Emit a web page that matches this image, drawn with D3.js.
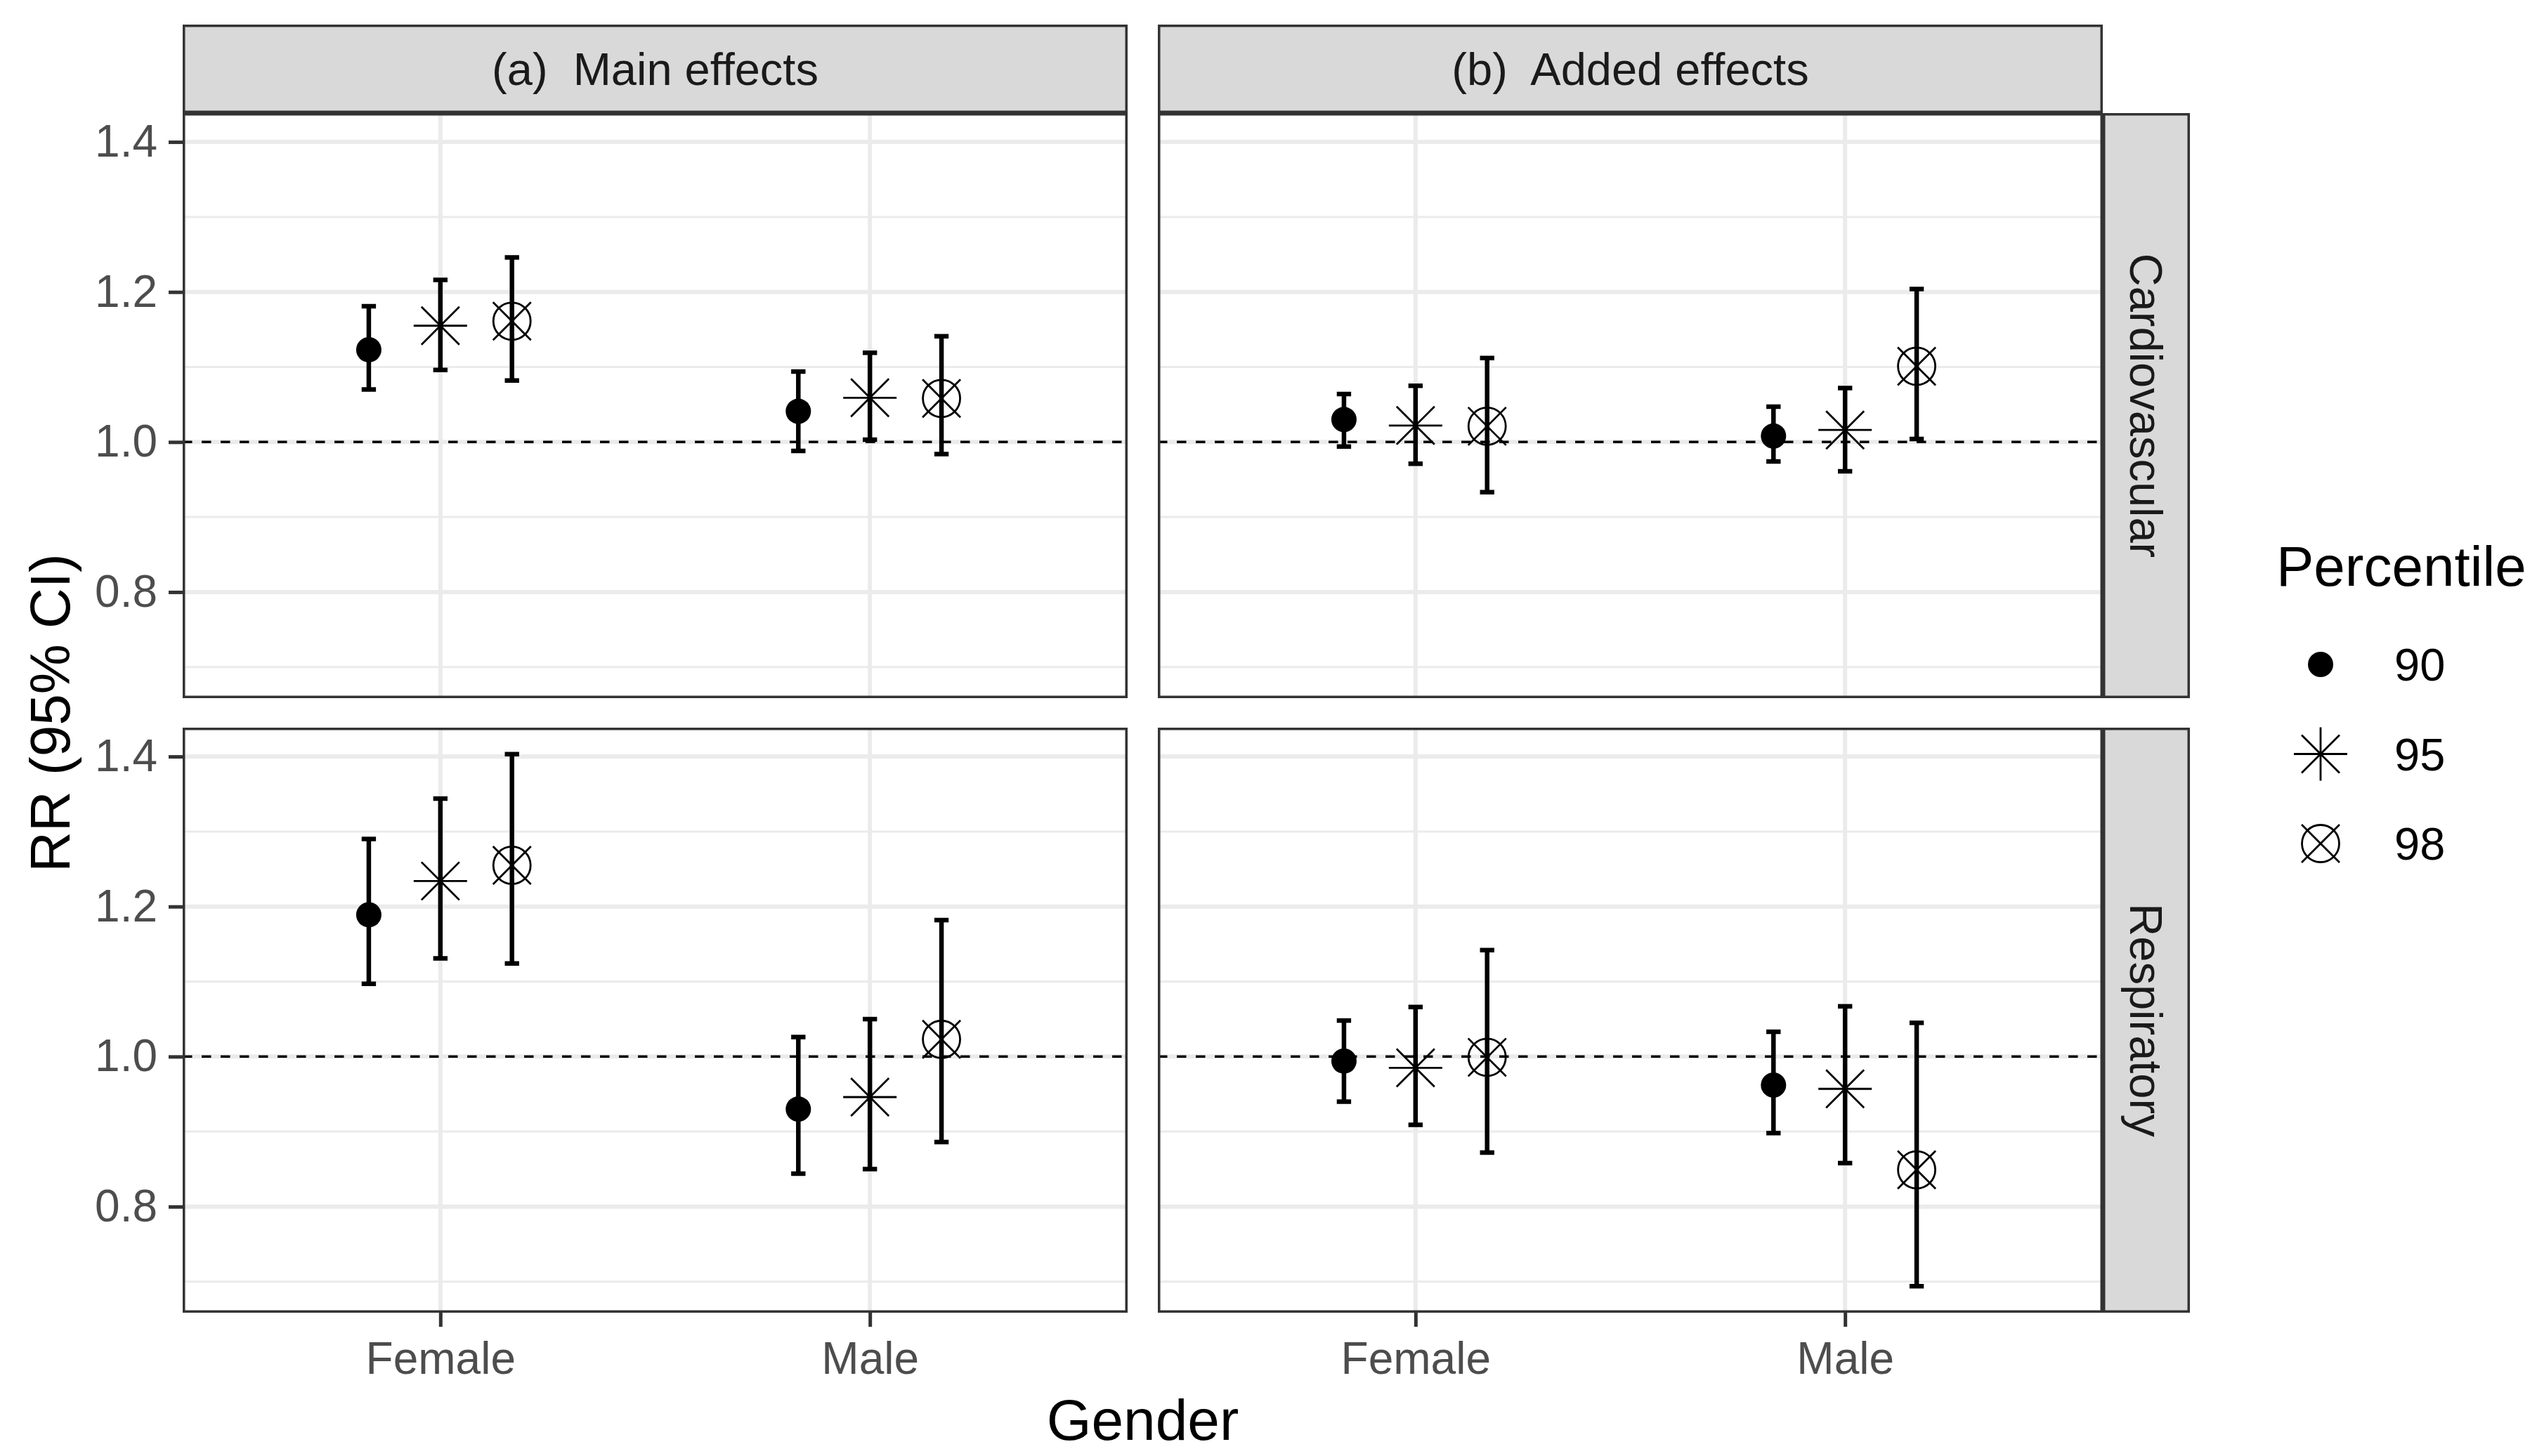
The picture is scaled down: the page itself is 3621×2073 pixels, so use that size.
<!DOCTYPE html>
<html>
<head>
<meta charset="utf-8">
<script src="https://cdn.jsdelivr.net/npm/d3@7"></script>
<style>
  body { margin: 0; background: #fff; }
  svg { display: block; }
  text { font-family: "Liberation Sans", Arial, sans-serif; }
</style>
</head>
<body>
<div id="chart"></div>
<script>
// categories
const genders = ["Female", "Male"];
const percentiles = ["90", "95", "98"];
const effects = ["(a)  Main effects", "(b)  Added effects"];
const outcomes = ["Cardiovascular", "Respiratory"];
const yTicks = [0.8, 1.0, 1.2, 1.4];
const yMinorTicks = [0.7, 0.9, 1.1, 1.3];

// RR and 95% CI, order: Female 90/95/98, Male 90/95/98
const rrMainCardio = [1.123, 1.155, 1.161, 1.041, 1.059, 1.058];
const loMainCardio = [1.070, 1.096, 1.082, 0.988, 1.003, 0.984];
const hiMainCardio = [1.181, 1.216, 1.246, 1.094, 1.119, 1.141];

const rrAddedCardio = [1.030, 1.022, 1.021, 1.008, 1.016, 1.101];
const loAddedCardio = [0.994, 0.971, 0.933, 0.974, 0.961, 1.004];
const hiAddedCardio = [1.064, 1.075, 1.112, 1.047, 1.072, 1.204];

const rrMainResp = [1.189, 1.234, 1.255, 0.930, 0.946, 1.023];
const loMainResp = [1.097, 1.131, 1.124, 0.844, 0.850, 0.886];
const hiMainResp = [1.290, 1.344, 1.403, 1.026, 1.050, 1.182];

const rrAddedResp = [0.994, 0.985, 0.999, 0.962, 0.957, 0.849];
const loAddedResp = [0.940, 0.909, 0.872, 0.898, 0.858, 0.694];
const hiAddedResp = [1.048, 1.066, 1.142, 1.033, 1.067, 1.045];

const width = 3621;
const height = 2073;

// panel layout
const colX = [[260, 1605], [1648, 2993]];
const rowY = [[161, 994], [1036, 1869]];
const stripTop = [35, 161];
const stripRight = [2993, 3117];

const panels = [
  { col: 0, row: 0, rr: rrMainCardio, lo: loMainCardio, hi: hiMainCardio },
  { col: 1, row: 0, rr: rrAddedCardio, lo: loAddedCardio, hi: hiAddedCardio },
  { col: 0, row: 1, rr: rrMainResp, lo: loMainResp, hi: hiMainResp },
  { col: 1, row: 1, rr: rrAddedResp, lo: loAddedResp, hi: hiAddedResp }
];

panels.forEach(p => {
  p.points = p.rr.map((v, i) => ({
    gender: genders[Math.floor(i / 3)],
    pct: percentiles[i % 3],
    rr: v, lo: p.lo[i], hi: p.hi[i]
  }));
});

const svg = d3.select('#chart')
  .append('svg')
  .attr('width', width)
  .attr('height', height);

// shared y domain with 5% expansion like ggplot
const yMin = d3.min(panels, p => d3.min(p.lo));
const yMax = d3.max(panels, p => d3.max(p.hi));
const pad = (yMax - yMin) * 0.05;
const yDomain = [yMin - pad, yMax + pad];

const yScales = rowY.map(r => d3.scaleLinear().domain(yDomain).range([r[1], r[0]]));
const xScales = colX.map(c => d3.scalePoint().domain(genders).range(c).padding(0.6));

const step = xScales[0].step();
const dodge = d3.scalePoint().domain(percentiles).range([-step * 0.5 / 3, step * 0.5 / 3]);
const capHalf = step * 0.1 / 3 / 2;

const borderCol = '#333333';

// point shapes
function drawShape(g, pct) {
  if (pct === '90') {
    g.append('circle').attr('r', 18).attr('fill', 'black');
  } else if (pct === '95') {
    const a = 27, b = 38;
    g.append('path')
      .attr('d', `M${-a},${-a}L${a},${a}M${-a},${a}L${a},${-a}M${-b},0L${b},0M0,${-b}L0,${b}`)
      .attr('stroke', 'black').attr('stroke-width', 2.8).attr('fill', 'none');
  } else {
    const a = 27;
    g.append('circle').attr('r', 26.5)
      .attr('stroke', 'black').attr('stroke-width', 2.8).attr('fill', 'none');
    g.append('path')
      .attr('d', `M${-a},${-a}L${a},${a}M${-a},${a}L${a},${-a}`)
      .attr('stroke', 'black').attr('stroke-width', 2.8).attr('fill', 'none');
  }
}

panels.forEach(p => {
  const x = xScales[p.col];
  const y = yScales[p.row];
  const [x0, x1] = colX[p.col];
  const [y0, y1] = rowY[p.row];
  const g = svg.append('g');

  g.append('rect').attr('x', x0).attr('y', y0)
    .attr('width', x1 - x0).attr('height', y1 - y0).attr('fill', 'white');

  // grid
  g.selectAll('.minor').data(yMinorTicks).join('line')
    .attr('x1', x0).attr('x2', x1)
    .attr('y1', d => y(d)).attr('y2', d => y(d))
    .attr('stroke', '#EBEBEB').attr('stroke-width', 3);
  g.selectAll('.major').data(yTicks).join('line')
    .attr('x1', x0).attr('x2', x1)
    .attr('y1', d => y(d)).attr('y2', d => y(d))
    .attr('stroke', '#EBEBEB').attr('stroke-width', 6);
  g.selectAll('.vmajor').data(genders).join('line')
    .attr('x1', d => x(d)).attr('x2', d => x(d))
    .attr('y1', y0).attr('y2', y1)
    .attr('stroke', '#EBEBEB').attr('stroke-width', 6);

  // reference line at RR = 1
  g.append('line')
    .attr('x1', x0).attr('x2', x1)
    .attr('y1', y(1)).attr('y2', y(1))
    .attr('stroke', 'black').attr('stroke-width', 3.4)
    .attr('stroke-dasharray', '13.5,13.5');

  // error bars
  const eb = g.selectAll('.eb').data(p.points).join('g')
    .attr('transform', d => `translate(${x(d.gender) + dodge(d.pct)},0)`);
  eb.append('path')
    .attr('d', d => `M0,${y(d.lo)}L0,${y(d.hi)}M${-capHalf},${y(d.lo)}L${capHalf},${y(d.lo)}M${-capHalf},${y(d.hi)}L${capHalf},${y(d.hi)}`)
    .attr('stroke', 'black').attr('stroke-width', 6.5).attr('fill', 'none');

  // points
  g.selectAll('.pt').data(p.points).join('g')
    .attr('transform', d => `translate(${x(d.gender) + dodge(d.pct)},${y(d.rr)})`)
    .each(function (d) { drawShape(d3.select(this), d.pct); });

  // border
  g.append('rect').attr('x', x0 + 1.75).attr('y', y0 + 1.75)
    .attr('width', x1 - x0 - 3.5).attr('height', y1 - y0 - 3.5)
    .attr('fill', 'none').attr('stroke', borderCol).attr('stroke-width', 3.5);
});

// top strips
colX.forEach((c, i) => {
  svg.append('rect').attr('x', c[0] + 1.75).attr('y', stripTop[0] + 1.75)
    .attr('width', c[1] - c[0] - 3.5).attr('height', stripTop[1] - stripTop[0] - 3.5)
    .attr('fill', '#D9D9D9').attr('stroke', borderCol).attr('stroke-width', 3.5);
  svg.append('text')
    .attr('x', (c[0] + c[1]) / 2)
    .attr('y', (stripTop[0] + stripTop[1]) / 2)
    .attr('dy', '0.35em')
    .attr('text-anchor', 'middle')
    .style('font-size', '65px')
    .style('fill', '#1A1A1A')
    .style('white-space', 'pre')
    .text(effects[i]);
});

// right strips
rowY.forEach((r, i) => {
  svg.append('rect').attr('x', stripRight[0] + 1.75).attr('y', r[0] + 1.75)
    .attr('width', stripRight[1] - stripRight[0] - 3.5).attr('height', r[1] - r[0] - 3.5)
    .attr('fill', '#D9D9D9').attr('stroke', borderCol).attr('stroke-width', 3.5);
  const cx = (stripRight[0] + stripRight[1]) / 2;
  const cy = (r[0] + r[1]) / 2;
  svg.append('text')
    .attr('transform', `translate(${cx},${cy}) rotate(90)`)
    .attr('dy', '0.35em')
    .attr('text-anchor', 'middle')
    .style('font-size', '65px')
    .style('fill', '#1A1A1A')
    .text(outcomes[i]);
});

// axes
function styleAxis(a) {
  a.select('.domain').remove();
  a.selectAll('.tick line').attr('stroke', borderCol).attr('stroke-width', 5);
  a.selectAll('.tick text')
    .style('font-size', '64px')
    .style('fill', '#4D4D4D')
    .style('font-family', '"Liberation Sans", Arial, sans-serif');
}

rowY.forEach((r, i) => {
  svg.append('g')
    .attr('transform', `translate(${colX[0][0]},0)`)
    .call(d3.axisLeft(yScales[i]).tickValues(yTicks).tickFormat(d3.format('.1f')).tickSize(20).tickPadding(16))
    .call(styleAxis);
});

colX.forEach((c, i) => {
  svg.append('g')
    .attr('transform', `translate(0,${rowY[1][1]})`)
    .call(d3.axisBottom(xScales[i]).tickSize(20).tickPadding(22))
    .call(styleAxis);
});

// axis titles
svg.append('text')
  .attr('x', (colX[0][0] + colX[1][1]) / 2)
  .attr('y', 2050)
  .attr('text-anchor', 'middle')
  .style('font-size', '82px')
  .style('fill', 'black')
  .text('Gender');

svg.append('text')
  .attr('transform', `translate(99,${(rowY[0][0] + rowY[1][1]) / 2}) rotate(-90)`)
  .attr('text-anchor', 'middle')
  .style('font-size', '80px')
  .style('fill', 'black')
  .text('RR (95% CI)');

// legend
const legend = svg.append('g');
legend.append('text')
  .attr('x', 3240).attr('y', 834)
  .style('font-size', '80px')
  .style('fill', 'black')
  .text('Percentile');

const legendY = d3.scalePoint().domain(percentiles).range([946, 1201]);
const items = legend.selectAll('.item').data(percentiles).join('g')
  .attr('transform', d => `translate(3303,${legendY(d)})`);
items.each(function (d) { drawShape(d3.select(this), d); });
items.append('text')
  .attr('x', 105)
  .attr('dy', '0.36em')
  .style('font-size', '65px')
  .style('fill', 'black')
  .text(d => d);
</script>
</body>
</html>
